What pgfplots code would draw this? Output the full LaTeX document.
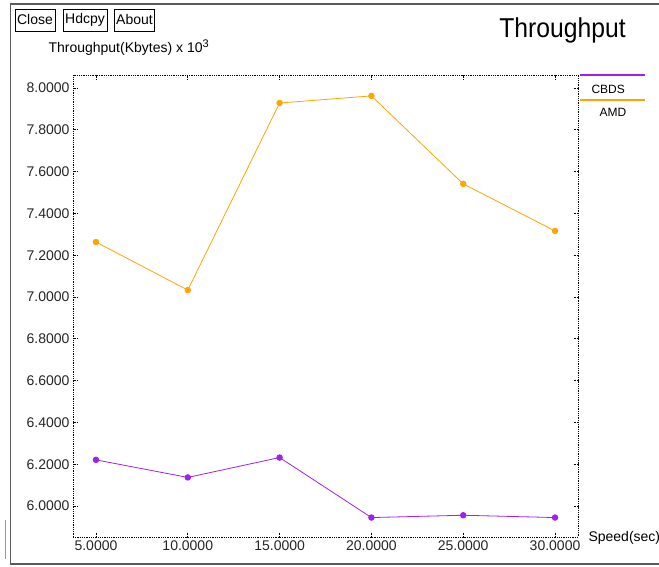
\documentclass[border=0pt]{standalone}
\usepackage{pgfplots}
\pgfplotsset{compat=1.18}
\usepackage{fontspec}
\setmainfont{Liberation Sans}
\definecolor{amd}{RGB}{255,165,0}
\definecolor{cbds}{RGB}{160,32,240}
\begin{document}
\begin{tikzpicture}[x=1pt,y=1pt]
\useasboundingbox (0,0) rectangle (659,567);
\fill[white] (0,0) rectangle (659,567);
% window frame
\draw[black!65, line width=1.5pt] (10,563) -- (659,563);
\draw[black!65, line width=1pt] (10,563) -- (10,4);
\draw[black!65, line width=2.5pt] (10,3) -- (659,3);
\draw[black!40, line width=0.8pt] (5,47) -- (5,8);
% buttons
\node[draw=black, line width=0.6pt, inner sep=2pt, minimum height=22pt, font=\fontsize{14}{14}\selectfont] at (35,547) {Close};
\node[draw=black, line width=0.6pt, inner sep=2pt, minimum height=22pt, font=\fontsize{14}{14}\selectfont] at (85,547) {Hdcpy};
\node[draw=black, line width=0.6pt, inner sep=2pt, minimum height=22pt, font=\fontsize{14}{14}\selectfont] at (134.5,547) {About};
% title and labels
\node[anchor=base east, font=\fontsize{26}{26}\selectfont, xscale=0.95, yscale=1.05] at (629,529) {Throughput};
\node[anchor=base west, font=\fontsize{14}{14}\selectfont] at (45,514) {Throughput(Kbytes) x 10\raisebox{5pt}{\fontsize{11}{11}\selectfont 3}};
\node[anchor=base west, font=\fontsize{14}{14}\selectfont] at (585,25) {Speed(sec)};
% legend
\draw[cbds, line width=1.3pt] (580,492) -- (645,492);
\node[anchor=base west, font=\fontsize{12}{12}\selectfont] at (588,473) {CBDS};
\draw[amd, line width=1.3pt] (580,467) -- (645,467);
\node[anchor=base west, font=\fontsize{12}{12}\selectfont] at (596,450) {AMD};
\begin{axis}[
  at={(73pt,30pt)}, anchor=south west,
  scale only axis, width=505pt, height=462pt,
  xmin=3.75, xmax=31.25, ymin=5.852, ymax=8.062,
  xtick={5,10,15,20,25,30},
  ytick={6.0,6.2,6.4,6.6,6.8,7.0,7.2,7.4,7.6,7.8,8.0},
  axis line style={black, densely dotted, line width=0.8pt},
  tick style={black, densely dotted, line width=0.8pt},
  major tick length=4pt,
  tick align=inside,
  xtick pos=both, ytick pos=both,
  xticklabel pos=lower, yticklabel pos=left,
  /pgf/number format/assume math mode=true,
  /pgf/number format/.cd, fixed, fixed zerofill, precision=4,
  /pgfplots/.cd,
  ticklabel style={font=\fontsize{14}{14}\selectfont, text=black!85},
  scaled ticks=false,
  clip=false,
]
\addplot[amd, line width=0.8pt, mark=*, mark size=2.8pt, mark options={fill=amd, draw=amd}] coordinates {
(5,7.263) (10,7.033) (15,7.928) (20,7.962) (25,7.541) (30,7.316)};
\addplot[cbds, line width=0.8pt, mark=*, mark size=2.8pt, mark options={fill=cbds, draw=cbds}] coordinates {
(5,6.221) (10,6.137) (15,6.232) (20,5.945) (25,5.956) (30,5.945)};
\end{axis}
\end{tikzpicture}
\end{document}
